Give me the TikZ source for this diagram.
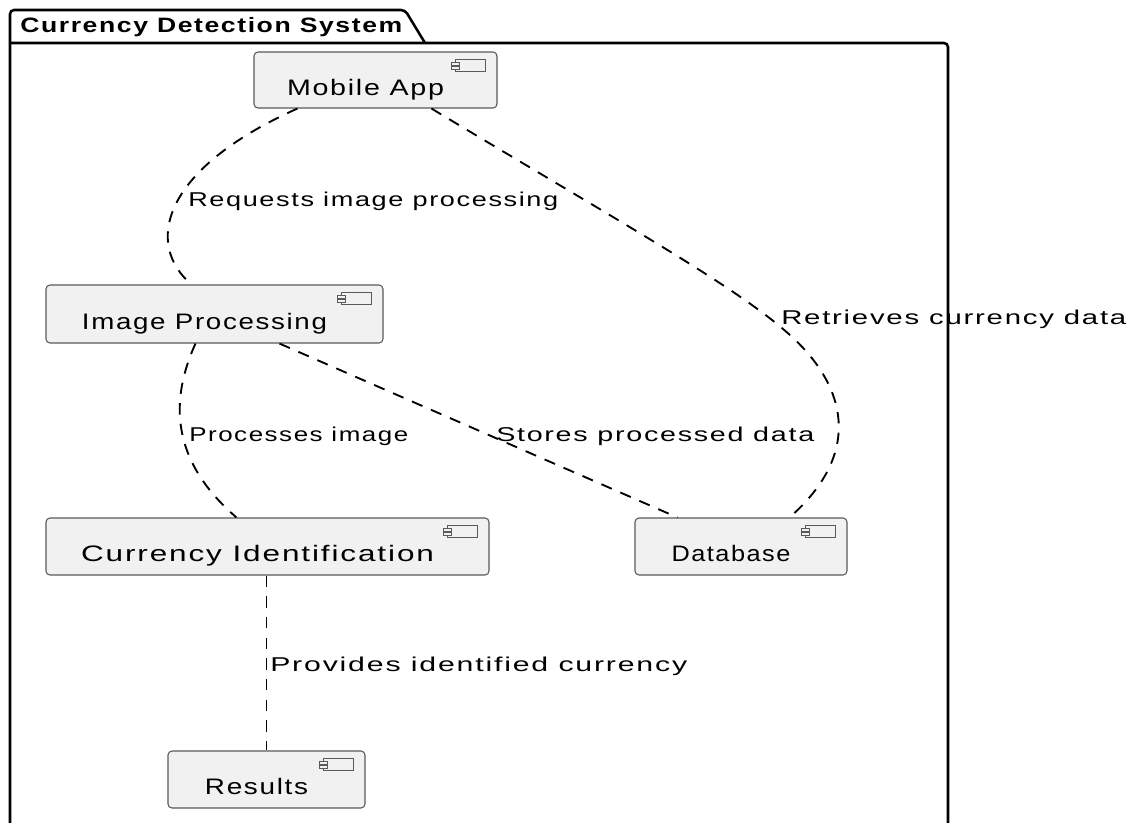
\documentclass[tikz,border=0pt]{standalone}
\usepackage{fontspec}
\setmainfont{Liberation Sans}[LetterSpace=6]
\usepackage{graphicx}
\usetikzlibrary{calc}
\newdimen\pxu \pxu=0.75pt
\newcommand\fitw[2]{\resizebox{#1\pxu}{\height}{#2}}
\newcommand\ntext[2]{\fitw{#1}{#2}\hspace*{15pt}}
\definecolor{boxfill}{HTML}{F1F1F1}
\definecolor{boxline}{HTML}{5A5A5A}
\tikzset{
  comp/.style={draw=boxline, fill=boxfill, line width=0.8pt, rounded corners=3pt,
    inner sep=0pt, text height=22.5pt, text depth=0pt,
    font=\fontsize{16.8}{19}\selectfont},
  icon/.style={draw=boxline, fill=boxfill, line width=0.5pt},
  frame/.style={draw=black, line width=1.9pt, rounded corners=3pt},
  conn/.style={draw=black, line width=1.4pt, dash pattern=on 8.5pt off 7pt},
  lbl/.style={anchor=base west, inner sep=0pt, font=\fontsize{15}{17}\selectfont},
}
\newcommand\compicon[1]{%
  \begin{scope}[shift={(#1.north east)}]
    \draw[icon] (-42,8) rectangle (-12,20);
    \draw[icon] (-46,10.5) rectangle (-38,13.5);
    \draw[icon] (-46,15) rectangle (-38,18);
  \end{scope}}
\begin{document}
\begin{tikzpicture}[x=0.75pt, y=-0.75pt]
\useasboundingbox (0,0) rectangle (1134,822);
\fill[white] (0,0) rectangle (1134,822);

% package frame
\draw[frame] (10,830) -- (10,10) -- (405,10) -- (425,43);
\draw[frame] (10,43) -- (948,43) -- (948,830);
\node[anchor=base west, inner sep=0pt, font=\bfseries\fontsize{15.6}{18}\selectfont] (title) at (20,32) {\fitw{382}{Currency Detection System}};

% component nodes
\node[comp, minimum width=243*0.75pt, minimum height=56*0.75pt] (ma) at (375.5,80) {\ntext{157}{Mobile App}};
\node[comp, minimum width=337*0.75pt, minimum height=58*0.75pt] (ip) at (214.5,314) {\ntext{245}{Image Processing}};
\node[comp, minimum width=443*0.75pt, minimum height=57*0.75pt] (ci) at (267.5,546.5) {\ntext{353}{Currency Identification}};
\node[comp, minimum width=212*0.75pt, minimum height=57*0.75pt] (db) at (741,546.5) {\ntext{119}{Database}};
\node[comp, minimum width=197*0.75pt, minimum height=57*0.75pt] (rs) at (266.5,779.5) {\ntext{103}{Results}};

% connectors
\coordinate (bend) at (805,350);
\draw[conn] ($(ma.south west)+(44,0)$) .. controls (160,170) and (145,245) .. ($(ip.north west)+(146,0)$);
\draw[conn] ($(ma.south west)+(178,0)$) .. controls (650,240) and (760,300) .. (bend)
             .. controls (850,400) and (855,460) .. ($(db.north west)+(155,0)$);
\draw[conn] ($(ip.south west)+(150,0)$) .. controls (170,400) and (170,460) .. ($(ci.north west)+(191,0)$);
\draw[conn] ($(ip.south west)+(234,0)$) -- ($(db.north west)+(43,0)$);
\draw[conn] (rs.north |- ci.south) -- (rs.north);

% component icons
\foreach \n in {ma,ip,ci,db,rs}{\compicon{\n}}

% connector labels
\node[lbl] (l1) at (188,206) {\fitw{370}{Requests image processing}};
\node[lbl] (l2) at (781,324) {\fitw{345}{Retrieves currency data}};
\node[lbl] (l3) at (189,441) {\fitw{219}{Processes image}};
\node[lbl] (l4) at (496,441) {\fitw{318}{Stores processed data}};
\node[lbl] (l5) at (270,671) {\fitw{417}{Provides identified currency}};
\end{tikzpicture}
\end{document}
